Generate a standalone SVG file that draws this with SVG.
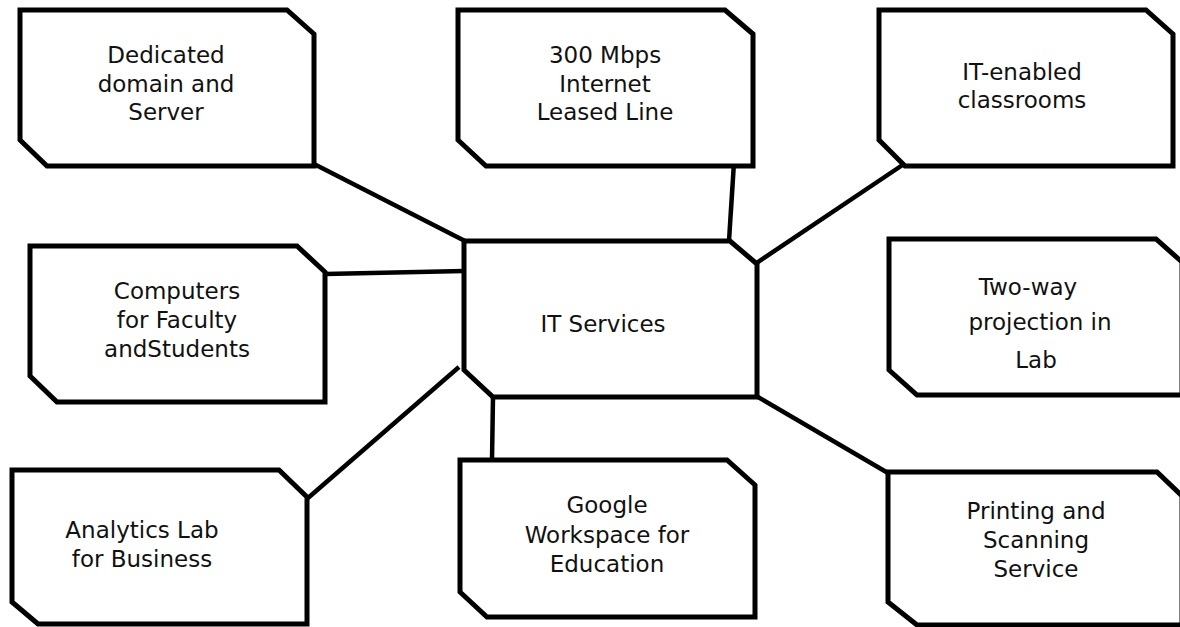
<svg xmlns="http://www.w3.org/2000/svg" width="1180" height="627" viewBox="0 0 1180 627">
  <style>
    .box { fill: #ffffff; stroke: #000000; stroke-width: 5; stroke-linejoin: miter; }
    .link { stroke: #000000; stroke-width: 4.5; fill: none; stroke-linecap: butt; }
    .lbl { font-family: "DejaVu Sans", Verdana, sans-serif; font-size: 23px; fill: #111111; text-anchor: middle; }
  </style>
  <rect width="1180" height="627" fill="#ffffff"/>

  <!-- spokes from the hub to the service boxes -->
  <g id="connectors">
    <line class="link" x1="314" y1="164" x2="465" y2="241"/>
    <line class="link" x1="325" y1="274" x2="464" y2="271"/>
    <line class="link" x1="308" y1="498" x2="459" y2="367"/>
    <line class="link" x1="734" y1="162" x2="729" y2="241"/>
    <line class="link" x1="904" y1="164" x2="755" y2="264"/>
    <line class="link" x1="493" y1="397" x2="492" y2="460"/>
    <line class="link" x1="758" y1="397" x2="888" y2="473"/>
  </g>

  <g id="node-dedicated">
    <path class="box" d="M20,10 H287 L314,34 V166 H47 L20,140 Z"/>
    <text class="lbl" x="166" y="63">Dedicated</text>
    <text class="lbl" x="166" y="92">domain and</text>
    <text class="lbl" x="166" y="120">Server</text>
  </g>

  <g id="node-leased-line">
    <path class="box" d="M458,10 H725 L753,34 V166 H486 L458,140 Z"/>
    <text class="lbl" x="605" y="63">300 Mbps</text>
    <text class="lbl" x="605" y="92">Internet</text>
    <text class="lbl" x="605" y="120">Leased Line</text>
  </g>

  <g id="node-classrooms">
    <path class="box" d="M879,10 H1146 L1173,34 V166 H905 L879,140 Z"/>
    <text class="lbl" x="1022" y="80">IT-enabled</text>
    <text class="lbl" x="1022" y="108">classrooms</text>
  </g>

  <g id="node-computers">
    <path class="box" d="M30,246 H297 L325,272 V402 H57 L30,376 Z"/>
    <text class="lbl" x="177" y="299">Computers</text>
    <text class="lbl" x="177" y="328">for Faculty</text>
    <text class="lbl" x="177" y="357">andStudents</text>
  </g>

  <g id="node-it-services">
    <path class="box" d="M464,241 H730 L757,264 V397 H493 L464,370 Z"/>
    <text class="lbl" x="603" y="332">IT Services</text>
  </g>

  <g id="node-projection">
    <path class="box" d="M889,239 H1156 L1182,262 V395 H917 L889,370 Z"/>
    <text class="lbl" x="1028" y="295">Two-way</text>
    <text class="lbl" x="1040" y="330">projection in</text>
    <text class="lbl" x="1036" y="368">Lab</text>
  </g>

  <g id="node-analytics">
    <path class="box" d="M12,470 H279 L307,497 V624 H38 L12,602 Z"/>
    <text class="lbl" x="142" y="538">Analytics Lab</text>
    <text class="lbl" x="142" y="567">for Business</text>
  </g>

  <g id="node-workspace">
    <path class="box" d="M460,460 H727 L755,485 V617 H487 L460,592 Z"/>
    <text class="lbl" x="607" y="513">Google</text>
    <text class="lbl" x="607" y="543">Workspace for</text>
    <text class="lbl" x="607" y="572">Education</text>
  </g>

  <g id="node-printing">
    <path class="box" d="M888,472 H1157 L1182,496 V625 H917 L888,602 Z"/>
    <text class="lbl" x="1036" y="519">Printing and</text>
    <text class="lbl" x="1036" y="548">Scanning</text>
    <text class="lbl" x="1036" y="577">Service</text>
  </g>
</svg>
